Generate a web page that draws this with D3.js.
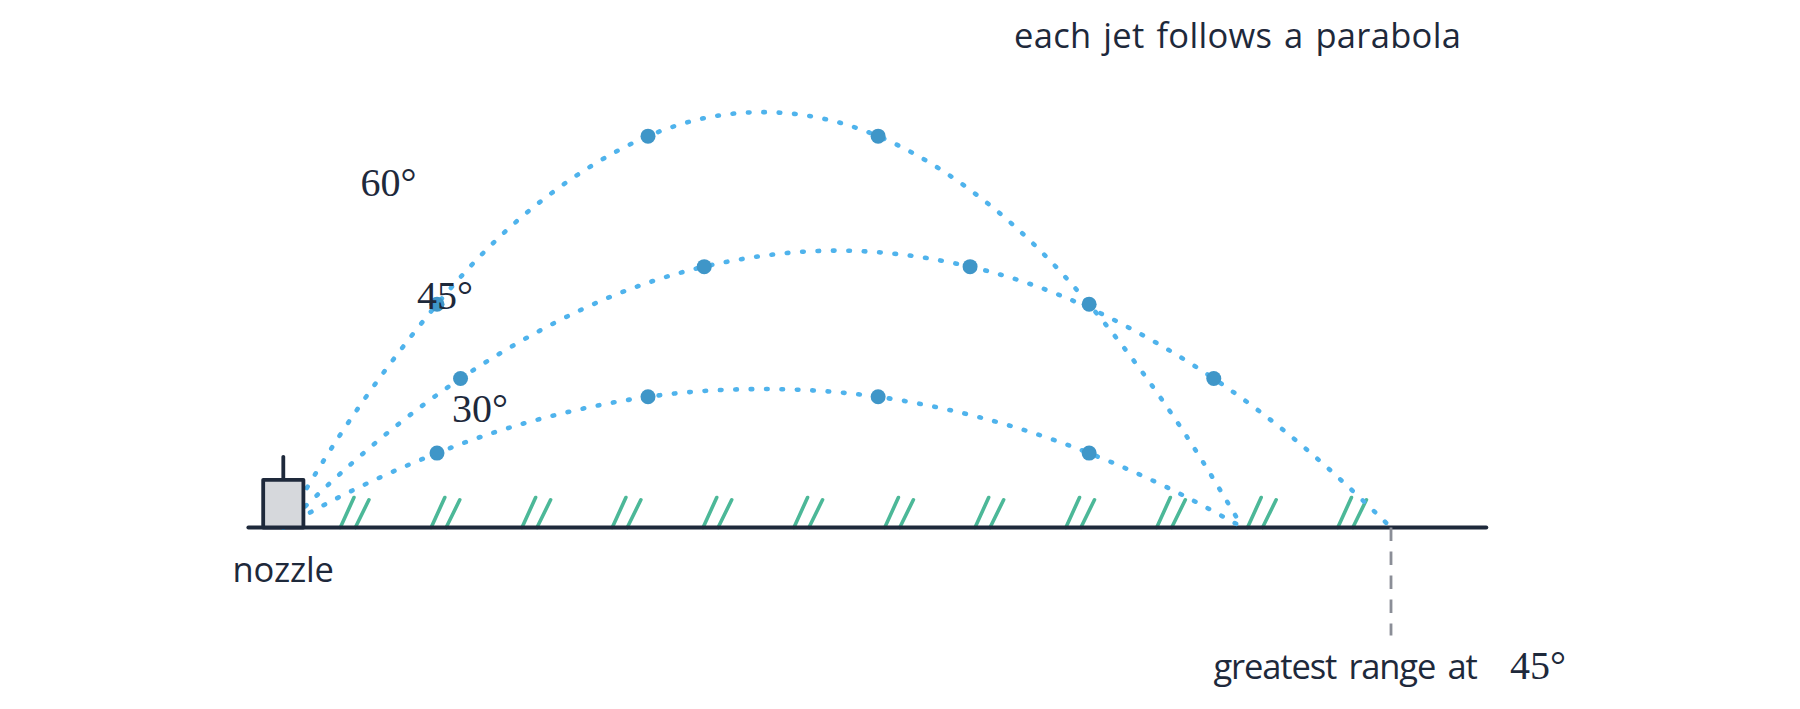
<!DOCTYPE html>
<html>
<head>
<meta charset="utf-8">
<script src="https://cdn.jsdelivr.net/npm/d3@7"></script>
<style>
  html, body { margin: 0; padding: 0; background: #fff; }
  svg { display: block; }
  .sans { font-family: "Open Sans", sans-serif; font-size: 34.5px; fill: #1e293b; }
  .math { font-family: "Liberation Serif", serif; font-size: 40px; fill: #1e293b; }
  .title { letter-spacing: 0.3px; word-spacing: 2.6px; }
  .nozzle { letter-spacing: -0.2px; }
  .range { letter-spacing: -1.15px; word-spacing: 4.5px; }
</style>
</head>
<body>
<div id="chart"></div>
<script>
var svgWidth = 1800;
var svgHeight = 709;

// Jet paths, metres from the nozzle
var jet60X = [0, 1.2, 2.775, 4.5, 6.585, 8.66, 10.74, 12.8, 14.55, 16.1, 17.32];
var jet60Y = [0, 1.934, 4.03, 5.77, 7.067, 7.5, 7.067, 5.786, 4.03, 1.964, 0];
var jet45X = [0, 1.4, 3.2, 5.4, 7.6, 10, 12.4, 14.6, 16.8, 18.6, 20];
var jet45Y = [0, 1.302, 2.69, 3.942, 4.71, 5, 4.71, 3.942, 2.69, 1.302, 0];
var jet30X = [0, 1.2, 2.775, 4.5, 6.585, 8.66, 10.74, 12.8, 14.55, 16.1, 17.32];
var jet30Y = [0, 0.645, 1.343, 1.923, 2.36, 2.5, 2.36, 1.929, 1.343, 0.654, 0];

// Marked droplets on each jet
var drops60X = [2.775, 6.585, 10.74, 14.55];
var drops60Y = [4.03, 7.067, 7.067, 4.03];
var drops45X = [3.2, 7.6, 12.4, 16.8];
var drops45Y = [2.69, 4.71, 4.71, 2.69];
var drops30X = [2.775, 6.585, 10.74, 14.55];
var drops30Y = [1.343, 2.36, 2.36, 1.343];

// Grass tufts along the ground
var grassX = [1.03, 2.67, 4.31, 5.94, 7.58, 9.22, 10.86, 12.49, 14.13, 15.77, 17.41, 19.04];

var groundStart = -0.63;
var groundEnd = 21.72;
var greatestRange = 20;
var nozzleHalfWidth = 0.363;
var nozzleHeight = 0.86;
var nozzleStemTop = 1.277;

// 1 m is the same length on both axes
var x = d3.scaleLinear().domain([0, 20]).range([283.3, 1391]);
var y = d3.scaleLinear().domain([0, 5]).range([527.5, 250.6]);

var svg = d3.select("#chart")
  .append("svg")
  .attr("width", svgWidth)
  .attr("height", svgHeight);

// Grass
var grass = svg.append("g")
  .attr("stroke", "#4cb898")
  .attr("stroke-width", 3.6)
  .attr("stroke-linecap", "round");

grass.selectAll(".blade-a")
  .data(grassX)
  .enter()
  .append("line")
  .attr("class", "blade-a")
  .attr("x1", d => x(d))
  .attr("x2", d => x(d) + 13.6)
  .attr("y1", y(0))
  .attr("y2", y(0) - 30);

grass.selectAll(".blade-b")
  .data(grassX)
  .enter()
  .append("line")
  .attr("class", "blade-b")
  .attr("x1", d => x(d) + 15)
  .attr("x2", d => x(d) + 28.6)
  .attr("y1", y(0))
  .attr("y2", y(0) - 27.7);

// Ground
svg.append("line")
  .attr("x1", x(groundStart))
  .attr("x2", x(groundEnd))
  .attr("y1", y(0))
  .attr("y2", y(0))
  .attr("stroke", "#1e293b")
  .attr("stroke-width", 4)
  .attr("stroke-linecap", "round");

// Dashed drop line under the 45 degree landing point
svg.append("line")
  .attr("x1", x(greatestRange))
  .attr("x2", x(greatestRange))
  .attr("y1", y(0))
  .attr("y2", 635.5)
  .attr("stroke", "#8b8e97")
  .attr("stroke-width", 2.8)
  .attr("stroke-dasharray", "13.5 10.5");

// Jets
var jetLine = d3.line()
  .x(d => x(d[0]))
  .y(d => y(d[1]))
  .curve(d3.curveNatural);

[[jet60X, jet60Y], [jet45X, jet45Y], [jet30X, jet30Y]].forEach(function(jet) {
  svg.append("path")
    .attr("d", jetLine(d3.zip(jet[0], jet[1])))
    .attr("fill", "none")
    .attr("stroke", "#4fb3ec")
    .attr("stroke-width", 4.6)
    .attr("stroke-linecap", "round")
    .attr("stroke-dasharray", "1.6 13.8");
});

// Nozzle
svg.append("line")
  .attr("x1", x(0))
  .attr("x2", x(0))
  .attr("y1", y(nozzleHeight))
  .attr("y2", y(nozzleStemTop))
  .attr("stroke", "#1e293b")
  .attr("stroke-width", 3.8)
  .attr("stroke-linecap", "round");

svg.append("rect")
  .attr("x", x(-nozzleHalfWidth))
  .attr("y", y(nozzleHeight))
  .attr("width", x(nozzleHalfWidth) - x(-nozzleHalfWidth))
  .attr("height", y(0) - y(nozzleHeight))
  .attr("fill", "#d6d8dc")
  .attr("stroke", "#1e293b")
  .attr("stroke-width", 3.8)
  .attr("stroke-linejoin", "round");

// Droplets
[[drops60X, drops60Y], [drops45X, drops45Y], [drops30X, drops30Y]].forEach(function(drops) {
  svg.append("g")
    .selectAll("circle")
    .data(d3.zip(drops[0], drops[1]))
    .enter()
    .append("circle")
    .attr("cx", d => x(d[0]))
    .attr("cy", d => y(d[1]))
    .attr("r", 7.5)
    .attr("fill", "#3f96c8");
});

// Labels
function label(cls, str, px, py) {
  return svg.append("text")
    .attr("class", cls)
    .attr("x", px)
    .attr("y", py)
    .text(str);
}

label("math", "60°", 360.5, 195.7);
label("math", "45°", 417, 309);
label("math", "30°", 452, 422.3);
label("sans title", "each jet follows a parabola", 1014, 48.3);
label("sans nozzle", "nozzle", 232.5, 581.7);
label("sans range", "greatest range at", 1213.5, 679);
label("math", "45°", 1510, 679);
</script>
</body>
</html>
